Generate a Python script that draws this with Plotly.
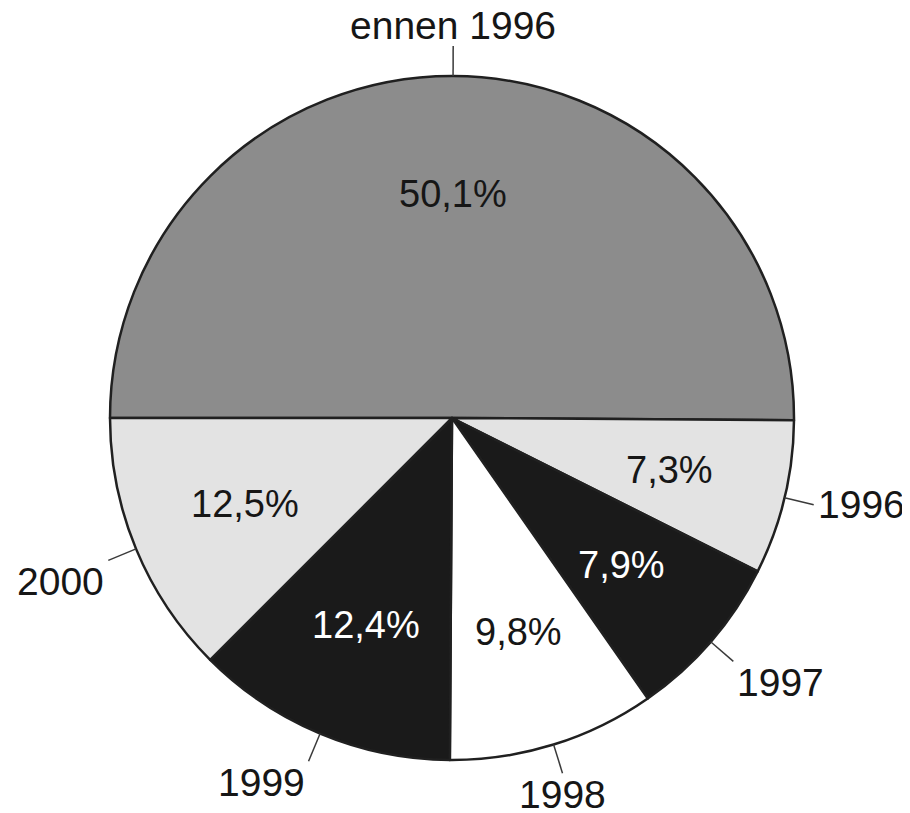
import math
import plotly.graph_objects as go

# ---- data ----
labels = ["ennen 1996", "1996", "1997", "1998", "1999", "2000"]
values = [50.1, 7.3, 7.9, 9.8, 12.4, 12.5]
pct_text = ["50,1%", "7,3%", "7,9%", "9,8%", "12,4%", "12,5%"]

# ---- style ----
colors = ["#8c8c8c", "#e3e3e3", "#1a1a1a", "#ffffff", "#1a1a1a", "#e3e3e3"]
pct_colors = ["#161616", "#161616", "#ffffff", "#161616", "#ffffff", "#161616"]
W, H = 910, 813
OFF = 8                              # page body margin
CX, CY, R = 452 - OFF, 418 - OFF, 342  # pie centre / radius in plot pixels
START = 180.0                        # first slice starts at 9 o'clock, clockwise
FONT = "Liberation Sans, Arial, Helvetica, sans-serif"
INNER = 0.655                        # radial position of percentage text
LEAD = 30                            # leader line length in px

fig = go.Figure(go.Pie(
    labels=labels, values=values, sort=False, direction="clockwise",
    rotation=-90, textinfo="none", hoverinfo="label+value",
    marker=dict(colors=colors, line=dict(color="#202020", width=2.5)),
    domain=dict(x=[(CX - R) / W, (CX + R) / W],
                y=[(H - CY - R) / H, (H - CY + R) / H]),
    showlegend=False,
))

def px(x, y):
    return x / W, 1 - y / H

annotations, shapes = [], []
total = sum(values)
cum = 0.0
for lab, v, pt, tc in zip(labels, values, pct_text, pct_colors):
    mid = START - (cum + v / 2) / total * 360.0
    cum += v
    a = math.radians(mid)
    c, s = math.cos(a), math.sin(a)
    # percentage inside
    ix, iy = px(CX + INNER * R * c, CY - INNER * R * s)
    annotations.append(dict(x=ix, y=iy, xref="paper", yref="paper", text=pt,
                            showarrow=False, xanchor="center", yanchor="middle",
                            font=dict(family=FONT, size=38, color=tc)))
    # leader line
    x0, y0 = CX + R * c, CY - R * s
    x1, y1 = CX + (R + LEAD) * c, CY - (R + LEAD) * s
    p0, p1 = px(x0, y0), px(x1, y1)
    shapes.append(dict(type="line", xref="paper", yref="paper",
                       x0=p0[0], y0=p0[1], x1=p1[0], y1=p1[1],
                       line=dict(color="#3a3a3a", width=1.5)))
    xa = "left" if c > 0.3 else ("right" if c < -0.3 else "center")
    ya = "bottom" if s > 0.3 else ("top" if s < -0.3 else "middle")
    ox = 2 if xa == "left" else (-2 if xa == "right" else 0)
    oy = 3 if ya == "bottom" else (-2 if ya == "top" else 0)
    lx, ly = px(x1 + ox, y1 + oy)
    annotations.append(dict(x=lx, y=ly, xref="paper", yref="paper", text=lab,
                            showarrow=False, xanchor=xa, yanchor=ya,
                            font=dict(family=FONT, size=39, color="#161616")))

fig.update_layout(width=W, height=H, margin=dict(l=0, r=0, t=0, b=0),
                  paper_bgcolor="white", plot_bgcolor="white",
                  annotations=annotations, shapes=shapes)
fig.write_html("out.html")
